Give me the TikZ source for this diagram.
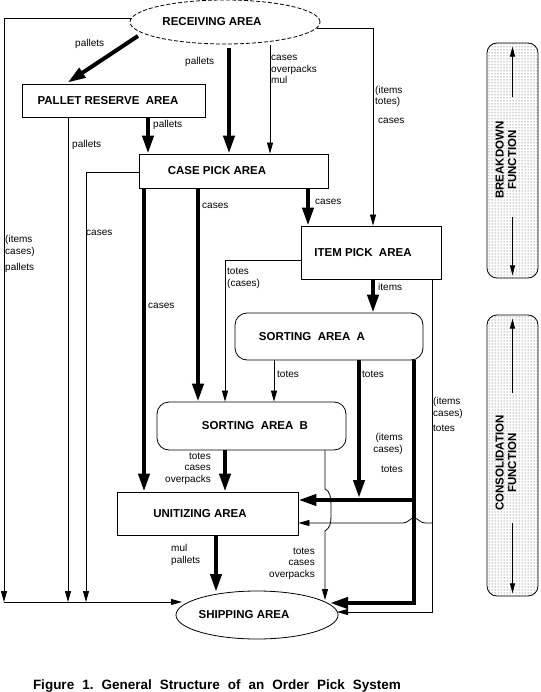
\documentclass[tikz,border=0pt]{standalone}
\usepackage{fontspec}
\setmainfont{Liberation Sans}
\usetikzlibrary{arrows.meta,calc,patterns,shapes.geometric}
\newcommand\shiftx[2]{\hspace*{#1}#2}
\begin{document}
\begin{tikzpicture}[x=1pt,y=-1pt,
  boxfont/.style={font=\bfseries\fontsize{11.5}{13}\selectfont},
  box/.style={draw, line width=0.8pt, inner sep=0pt, boxfont},
  rbox/.style={box, rounded corners=12pt},
  ell/.style={ellipse, draw, line width=0.8pt, inner sep=0pt, boxfont},
  lbl/.style={inner sep=0pt, font=\fontsize{10}{11.5}\selectfont, align=left, anchor=base west},
  rlbl/.style={inner sep=0pt, font=\fontsize{10}{11.5}\selectfont, align=right, anchor=base east},
  tline/.style={line width=0.8pt},
  tarr/.style={tline, -{Triangle[length=11pt,width=6pt]}},
  Tline/.style={line width=4pt},
  Tarr/.style={Tline, -{Triangle[length=18pt,width=11pt]}},
  bar/.style={draw, line width=0.8pt, rounded corners=10pt, pattern=dots, pattern color=black!75, minimum width=51pt},
  bartxt/.style={rotate=90, align=center, inner sep=0pt, font=\bfseries\fontsize{11.5}{12.5}\selectfont},
  barr/.style={line width=0.6pt, -{Triangle[length=10pt,width=5pt]}}
]
\useasboundingbox (0,0) rectangle (540,692);

% ---------- nodes ----------
\node[ell, dash pattern=on 4pt off 2pt, minimum width=190pt, minimum height=44pt] (recv) at (225,22) {\shiftx{-26pt}{RECEIVING AREA}};
\node[box, minimum width=183pt, minimum height=33pt] (pallet) at (113.5,100.5) {\shiftx{-11pt}{PALLET RESERVE\ \ AREA}};
\node[box, minimum width=189pt, minimum height=34pt] (casepick) at (233.5,171) {\shiftx{-33pt}{CASE PICK AREA}};
\node[box, minimum width=140pt, minimum height=53pt] (itempick) at (371,252.5) {\shiftx{-16pt}{ITEM PICK\ \ AREA}};
\node[rbox, minimum width=188pt, minimum height=47pt] (sortA) at (329,336.5) {\shiftx{-34pt}{SORTING\ \ AREA\ \ A}};
\node[rbox, minimum width=189pt, minimum height=48pt] (sortB) at (251.5,426) {\shiftx{7pt}{SORTING\ \ AREA\ \ B}};
\node[box, minimum width=181pt, minimum height=43pt] (unit) at (207.5,513.5) {\shiftx{-15pt}{UNITIZING AREA}};
\node[ell, minimum width=162pt, minimum height=48pt] (ship) at (257,615) {\shiftx{-26pt}{SHIPPING AREA}};

\coordinate (bl) at (4,602);
\coordinate (jA) at (414,500);
\coordinate (jB) at (432,523);

% ---------- connectors ----------
\draw[Tarr] ($(recv.center)+(-87,14)$) -- ($(pallet.north west)+(46,-1)$);
\draw[Tarr] ($(recv.center)+(4,26)$) -- (casepick.north -| 229,0);
\draw[tarr] ($(recv.center)+(45,23)$) -- (casepick.north -| 270,0);
\draw[tarr] ($(recv.center)+(92,6)$) -| (itempick.north -| 373,0);
\draw[tarr] ($(recv.center)+(-93,-4)$) -| (bl);
\draw[tarr] (bl) -- ($(ship.center)+(-75,-13)$);
\draw[tarr] (pallet.south -| 68,0) -- (bl -| 68,0);
\draw[Tarr] (pallet.south -| 148,0) -- (casepick.north -| 148,0);
\draw[tarr] (casepick.west |- 0,172) -| (bl -| 86,0);
\draw[Tarr] (casepick.south -| 144,0) -- (unit.north -| 144,0);
\draw[Tarr] (casepick.south -| 198,0) -- (sortB.north -| 198,0);
\draw[Tarr] (casepick.south -| 308,0) -- (itempick.north -| 308,0);
\draw[tarr] (itempick.west |- 0,260) -| (sortB.north -| 225,0);
\draw[Tarr] (itempick.south -| 373,0) -- (sortA.north -| 373,0);
\draw[tarr] (itempick.south -| 432,0) |- ($(ship.center)+(80,-3)$);
\draw[tarr] (sortA.south -| 274,0) -- (sortB.north -| 274,0);
\draw[Tarr] (sortA.south -| 359,0) -- ($(jA -| 359,0)+(0,-2)$);
\draw[Tarr] (sortA.south -| 414,0) |- ($(ship.center)+(73,-12)$);
\draw[Tarr] (jA) -- (unit.east |- jA);
\draw[tarr] (jB) -- (425,523) .. controls (420,523) and (418,518) .. (414,518)
  .. controls (410,518) and (408,523) .. (403,523) -- (unit.east |- jB);
\draw[Tarr] (sortB.south -| 225,0) -- (unit.north -| 225,0);
\draw[tarr] (sortB.south -| 325,0) -- (325,489) .. controls (330,491) and (331,498) .. (331,505)
  -- (331,516) .. controls (331,523) and (330,528) .. (325,531) -- ($(ship.center)+(68,-15)$);
\draw[Tarr] (unit.south -| 216,0) -- ($(ship.center)+(-41,-23)$);

% ---------- labels (base = baseline of last line) ----------
\node[lbl] (l1) at (75,47) {pallets};
\node[lbl] (l2) at (185,65) {pallets};
\node[lbl] (l3) at (271,84) {cases\\overpacks\\mul};
\node[lbl] (l4) at (375,105) {(items\\totes)};
\node[lbl] (l4b) at (378,124) {cases};
\node[lbl] (l5) at (72,148) {pallets};
\node[lbl] (l6) at (153,128) {pallets};
\node[lbl] (l7) at (86,236) {cases};
\node[lbl] (l8) at (5,270) {(items\\cases)\\[4.5pt]pallets};
\node[lbl] (l10) at (148,308) {cases};
\node[lbl] (l11) at (202,209) {cases};
\node[lbl] (l12) at (315,205) {cases};
\node[lbl] (l13) at (227,286) {totes\\(cases)};
\node[lbl] (l14) at (378,290) {items};
\node[lbl] (l15) at (433,431) {(items\\cases)\\[3.5pt]totes};
\node[lbl] (l16) at (277,377) {totes};
\node[lbl] (l17) at (362,377) {totes};
\node[rlbl] (l18) at (403,472) {(items\\cases)\\[8.5pt]totes};
\node[rlbl] (l19) at (211,482) {totes\\cases\\overpacks};
\node[rlbl] (l20) at (315,577) {totes\\cases\\overpacks};
\node[lbl] (l21) at (171,563) {mul\\pallets};

% ---------- side bars ----------
\node[bar, minimum height=235pt] (bd) at (512.5,160.5) {};
\node[bartxt] (bdt) at (506,160) {BREAKDOWN\\FUNCTION};
\draw[barr] ($(bd.center)+(0,-63.5)$) -- ($(bd.north)+(0,4)$);
\draw[barr] ($(bd.center)+(0,56.5)$) -- ($(bd.south)+(0,-3)$);

\node[bar, minimum height=281pt] (cf) at (512.5,455.5) {};
\node[bartxt] (cft) at (506,463) {CONSOLIDATION\\FUNCTION};
\draw[barr] ($(cf.center)+(0,-62.5)$) -- ($(cf.north)+(0,4)$);
\draw[barr] ($(cf.center)+(0,67.5)$) -- ($(cf.south)+(0,-3)$);

% ---------- caption ----------
\node[inner sep=0pt, anchor=base, font=\bfseries\fontsize{13.5}{16}\selectfont] (cap) at (217,689)
  {\frenchspacing\makebox[368pt][s]{Figure 1. General Structure of an Order Pick System}};
\end{tikzpicture}
\end{document}
